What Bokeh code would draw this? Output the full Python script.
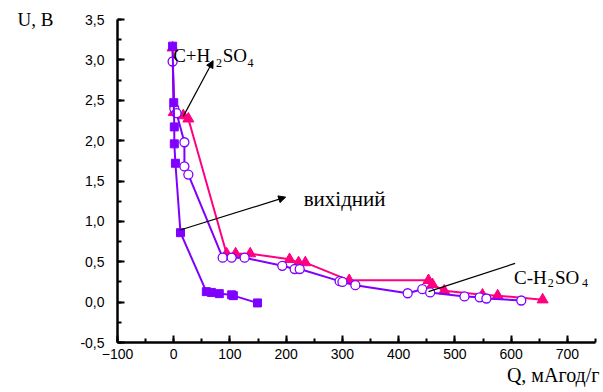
from bokeh.plotting import figure
from bokeh.models import Range1d, SingleIntervalTicker, CustomJSTickFormatter, Arrow, NormalHead, Label, Title
from bokeh.embed import file_html
from bokeh.resources import INLINE

# Data (Q, mAh/g ; U, V)
q_orig = [-2, 0, 1, 1, 3, 12, 58, 67, 81, 103, 106, 149]
u_orig = [3.17, 2.47, 2.17, 1.96, 1.72, 0.86, 0.13, 0.12, 0.105, 0.09, 0.08, -0.01]

q_minus = [-2, 1, 5, 19, 19, 26, 87, 103, 126, 193, 215, 224, 295, 300, 323, 416, 442, 456, 517, 544, 556, 618]
u_minus = [2.98, 2.40, 2.34, 1.98, 1.68, 1.58, 0.55, 0.55, 0.55, 0.45, 0.41, 0.41, 0.26, 0.25, 0.21, 0.11, 0.16, 0.12, 0.07, 0.06, 0.045, 0.02]

q_plus = [-2, 0, 17, 26, 94, 110, 136, 206, 222, 234, 312, 453, 460, 481, 549, 576, 656]
u_plus = [3.15, 2.35, 2.31, 2.27, 0.60, 0.60, 0.60, 0.53, 0.49, 0.49, 0.27, 0.27, 0.22, 0.14, 0.09, 0.08, 0.03]

PURPLE = "#8000FF"
PINK = "#FF0080"

p = figure(frame_width=478, frame_height=323,
           min_border_left=117, min_border_right=8, min_border_top=19, min_border_bottom=50,
           x_range=Range1d(-100, 750), y_range=Range1d(-0.5, 3.5),
           output_backend="svg", toolbar_location=None)
p.grid.visible = False
p.outline_line_color = None
p.background_fill_color = "white"
p.border_fill_color = "white"

fmt = CustomJSTickFormatter(code="return tick.toFixed(1).replace('.', ',');")
p.xaxis.ticker = SingleIntervalTicker(interval=100, num_minor_ticks=2)
p.yaxis.ticker = SingleIntervalTicker(interval=0.5, num_minor_ticks=2)
p.yaxis.formatter = fmt
for ax in (p.xaxis, p.yaxis):
    ax.axis_line_width = 2.5
    ax.major_tick_line_width = 2
    ax.minor_tick_line_width = 2
    ax.major_tick_in = 7
    ax.major_tick_out = 0
    ax.minor_tick_in = 4
    ax.minor_tick_out = 0
    ax.major_label_text_font = "Liberation Sans"
    ax.major_label_text_font_size = "14px"
    ax.major_label_text_color = "black"
    ax.axis_label_text_font = "Liberation Serif"
    ax.axis_label_text_font_size = "19px"
    ax.axis_label_text_font_style = "normal"
    ax.axis_label_text_color = "black"
p.xaxis.major_label_standoff = 6
p.yaxis.major_label_standoff = 13

p.yaxis.axis_label = "U, B"
p.yaxis.axis_label_align = "end"
p.yaxis.axis_label_orientation = "horizontal"
p.yaxis.axis_label_standoff = 24

p.add_layout(Title(text="Q, мАгод/г", align="right", text_font="Liberation Serif",
                   text_font_size="20px", text_font_style="normal", text_color="black",
                   standoff=0, offset=-4), "below")

# series
p.line(q_plus, u_plus, color=PINK, line_width=2)
p.scatter(q_plus, u_plus, marker="triangle", size=11, color=PINK)
p.line(q_minus, u_minus, color=PURPLE, line_width=2)
p.scatter(q_minus, u_minus, marker="circle", size=9, line_color=PURPLE, fill_color="white", line_width=1.3)
p.line(q_orig, u_orig, color=PURPLE, line_width=2)
p.scatter(q_orig, u_orig, marker="square", size=8, color=PURPLE)

# annotations
p.add_layout(Arrow(end=NormalHead(size=7, fill_color="black", line_color="black"),
                   x_start=17, y_start=2.30, x_end=70, y_end=2.99, line_width=1.2))
p.add_layout(Arrow(end=NormalHead(size=7, fill_color="black", line_color="black"),
                   x_start=10, y_start=0.89, x_end=199, y_end=1.30, line_width=1.2))
p.line([453, 607], [0.13, 0.48], color="black", line_width=1.2)

def lab(x, y, t, size, align="left"):
    p.add_layout(Label(x=x, y=y, text=t, text_font="Liberation Serif", text_font_size=size,
                       text_color="black", text_baseline="alphabetic", text_align=align))

lab(-1, 3.054, "C+H", "19px")
lab(75, 2.967, "2", "12px")
lab(87, 3.054, "SO", "19px")
lab(131, 2.967, "4", "12px")

lab(605, 0.305, "C-H", "19px")
lab(665, 0.231, "2", "12px")
lab(678, 0.305, "SO", "19px")
lab(726, 0.231, "4", "12px")

lab(231, 1.271, "вихідний", "21px")

open("out.html", "w").write(file_html(p, INLINE))
